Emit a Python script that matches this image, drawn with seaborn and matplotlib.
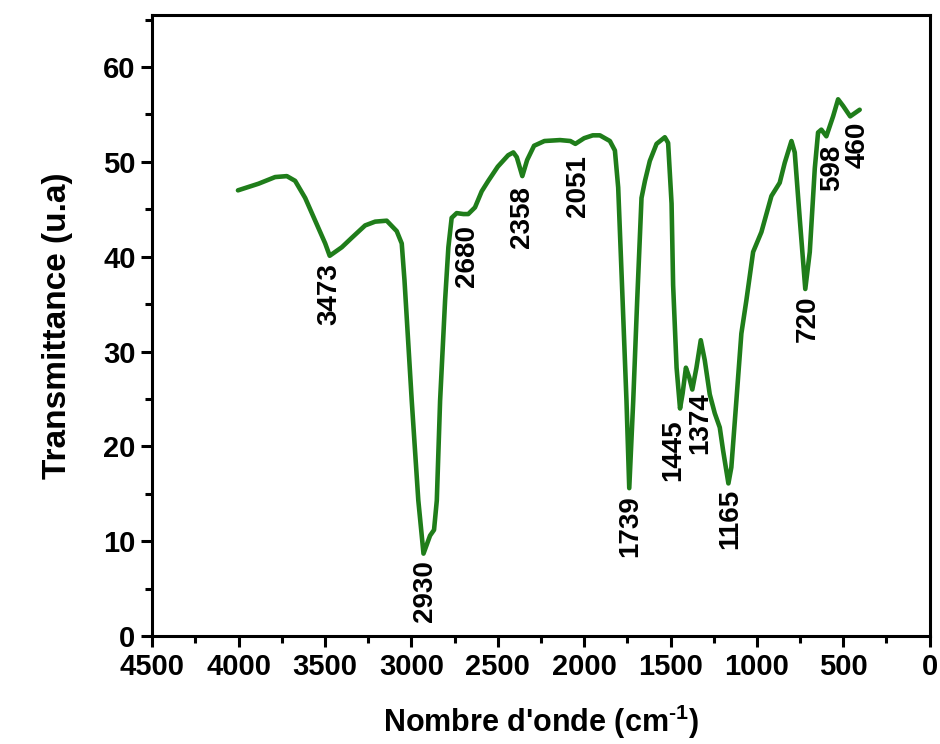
import numpy as np
import pandas as pd
import matplotlib
matplotlib.use("Agg")
import matplotlib.pyplot as plt
import seaborn as sns

# 1. Spectrum values
wavenumber = [4004, 3885, 3789, 3721, 3673, 3615, 3557, 3499, 3473, 3403,
              3345, 3268, 3210, 3143, 3085, 3056, 3040, 2998, 2960, 2930,
              2892, 2869, 2853, 2834, 2805, 2786, 2767, 2738, 2699, 2671,
              2632, 2593, 2555, 2500, 2440, 2410, 2390, 2358, 2330, 2290,
              2230, 2140, 2080, 2051, 2000, 1950, 1909, 1851, 1822, 1803,
              1783, 1755, 1739, 1716, 1693, 1668, 1648, 1620, 1581, 1533,
              1514, 1494, 1485, 1465, 1445, 1430, 1411, 1392, 1374, 1350,
              1325, 1302, 1273, 1244, 1215, 1196, 1165, 1148, 1119, 1090,
              1061, 1022, 974, 916, 868, 839, 800, 781, 752, 720,
              694, 665, 646, 627, 598, 559, 530, 501, 460, 405]
transmittance = [47.0, 47.7, 48.4, 48.5, 48.0, 46.2, 43.8, 41.4, 40.1, 41.0,
                 42.0, 43.3, 43.7, 43.8, 42.7, 41.4, 37.5, 24.8, 14.3, 8.7,
                 10.6, 11.2, 14.3, 24.8, 35.4, 41.0, 44.1, 44.6, 44.5, 44.5,
                 45.2, 46.9, 48.0, 49.5, 50.7, 51.0, 50.5, 48.5, 50.2, 51.7,
                 52.2, 52.3, 52.2, 51.9, 52.5, 52.8, 52.8, 52.2, 51.2, 47.3,
                 38.0, 24.8, 15.6, 24.8, 35.4, 46.2, 48.0, 50.1, 51.9, 52.6,
                 52.0, 45.6, 37.0, 28.3, 24.0, 25.6, 28.3, 27.3, 26.0, 28.3,
                 31.2, 29.1, 25.5, 23.5, 22.0, 19.6, 16.1, 17.8, 24.8, 31.9,
                 35.4, 40.5, 42.6, 46.4, 47.8, 49.9, 52.2, 51.0, 44.0, 36.6,
                 40.5, 49.3, 53.1, 53.4, 52.7, 54.8, 56.6, 55.9, 54.8, 55.5]

# Peak labels
peaks = [3473, 2930, 2680, 2358, 2051, 1739, 1445, 1374, 1165, 720, 598, 460]

df = pd.DataFrame({'wn': wavenumber, 'T': transmittance})

# 2. Style
sns.set_style("ticks")
plt.rcParams['font.family'] = ['Liberation Sans', 'DejaVu Sans']
plt.rcParams['font.weight'] = 'bold'
plt.rcParams['text.color'] = 'black'
plt.rcParams['axes.labelcolor'] = 'black'
plt.rcParams['xtick.color'] = 'black'
plt.rcParams['ytick.color'] = 'black'
plt.rcParams['mathtext.fontset'] = 'custom'
plt.rcParams['mathtext.rm'] = 'Liberation Sans:bold'
plt.rcParams['mathtext.bf'] = 'Liberation Sans:bold'

fig = plt.figure(figsize=(9.4, 7.44), dpi=100)
ax = fig.add_axes([0.162, 0.145, 0.827, 0.835])

sns.lineplot(data=df, x='wn', y='T', sort=False, color='#1f7d1a',
             linewidth=3.3, ax=ax, solid_joinstyle='round')

# label offsets in points (dx, dy) relative to the curve point
label_shift = {3473: (0, -5), 2930: (1, -5), 2680: (0, -8), 2358: (0, -7),
               2051: (2, -8), 1739: (1, -5), 1445: (-5, -8), 1374: (6, -2),
               1165: (1, -4), 720: (2, -5), 598: (4, -6), 460: (5, -4)}
wn_asc = np.array(wavenumber[::-1])
t_asc = np.array(transmittance[::-1])
for p in peaks:
    y = np.interp(p, wn_asc, t_asc)
    dx, dy = label_shift[p]
    ax.annotate(str(p), xy=(p, y), xytext=(dx, dy), textcoords='offset points',
                rotation=90, ha='center', va='top', fontsize=20,
                fontweight='bold', color='black')

# 3. Axes
ax.set_xlim(4500, 0)
ax.set_ylim(0, 65.5)
ax.set_xticks(np.arange(0, 4501, 500))
ax.set_xticks(np.arange(0, 4501, 250), minor=True)
ax.set_yticks(np.arange(0, 61, 10))
ax.set_yticks(np.arange(0, 66, 5), minor=True)
ax.tick_params(axis='both', which='major', direction='out', length=8, width=2.2,
               labelsize=21, pad=4, colors='black')
ax.tick_params(axis='both', which='minor', direction='out', length=5, width=2.2)
for lbl in ax.get_xticklabels() + ax.get_yticklabels():
    lbl.set_fontweight('bold')
for s in ax.spines.values():
    s.set_visible(True)
    s.set_linewidth(2.2)
    s.set_color('black')

ax.set_xlabel("Nombre d'onde (cm$^{\\text{-1}}$)", fontsize=22, fontweight='bold', labelpad=16)
ax.set_ylabel('Transmittance (u.a)', fontsize=24, fontweight='bold', labelpad=22)

fig.savefig('out.png', dpi=100)
